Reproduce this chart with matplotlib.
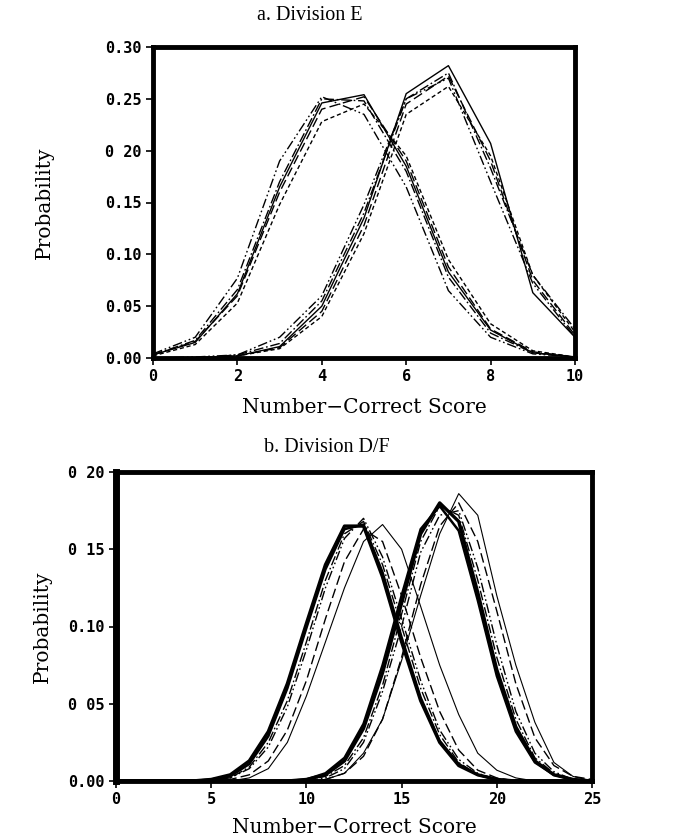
import matplotlib
matplotlib.use("Agg")
import matplotlib.pyplot as plt

# ---------------- data: panel a (Division E) ----------------
xa = list(range(0, 11))
a_left_solid      = [0.003, 0.015, 0.062, 0.165, 0.246, 0.254, 0.185, 0.083, 0.027, 0.005, 0.001]
a_left_dashdotdot = [0.004, 0.020, 0.077, 0.190, 0.252, 0.235, 0.165, 0.065, 0.020, 0.004, 0.001]
a_left_longdash   = [0.003, 0.016, 0.060, 0.160, 0.240, 0.252, 0.190, 0.088, 0.028, 0.006, 0.001]
a_left_dashed     = [0.002, 0.013, 0.053, 0.148, 0.228, 0.245, 0.195, 0.095, 0.033, 0.007, 0.001]
a_left_dashdot    = [0.003, 0.017, 0.066, 0.170, 0.250, 0.248, 0.180, 0.078, 0.024, 0.005, 0.001]

a_right_solid      = [0.000, 0.000, 0.002, 0.011, 0.050, 0.135, 0.255, 0.282, 0.207, 0.063, 0.020]
a_right_dashed     = [0.000, 0.000, 0.002, 0.009, 0.040, 0.120, 0.235, 0.262, 0.195, 0.080, 0.025]
a_right_longdash   = [0.000, 0.000, 0.002, 0.010, 0.045, 0.128, 0.245, 0.272, 0.190, 0.075, 0.022]
a_right_dashdotdot = [0.000, 0.001, 0.003, 0.020, 0.060, 0.148, 0.250, 0.270, 0.170, 0.072, 0.020]
a_right_dashdot    = [0.000, 0.000, 0.003, 0.014, 0.055, 0.140, 0.250, 0.275, 0.183, 0.080, 0.028]

# ---------------- data: panel b (Division D/F) ----------------
xb = list(range(0, 26))
b_left_thick1     = [0,0,0,0,0,0.001,0.004,0.013,0.032,0.063,0.102,0.140,0.165,0.165,0.132,0.090,0.052,0.025,0.010,0.004,0.001,0,0,0,0,0]
b_left_thick2     = [0,0,0,0,0,0.001,0.003,0.011,0.029,0.060,0.099,0.137,0.163,0.166,0.135,0.093,0.054,0.026,0.011,0.004,0.001,0,0,0,0,0]
b_left_dashdot    = [0,0,0,0,0,0.0005,0.002,0.009,0.025,0.052,0.090,0.130,0.160,0.168,0.140,0.100,0.060,0.030,0.012,0.004,0.001,0,0,0,0,0]
b_left_dashdotdot = [0,0,0,0,0,0.0005,0.002,0.008,0.022,0.048,0.085,0.125,0.157,0.170,0.145,0.105,0.065,0.033,0.014,0.005,0.001,0,0,0,0,0]
b_left_longdash   = [0,0,0,0,0,0,0.001,0.004,0.013,0.033,0.065,0.105,0.142,0.163,0.155,0.120,0.080,0.045,0.020,0.007,0.002,0,0,0,0,0]
b_left_thin       = [0,0,0,0,0,0,0,0.002,0.008,0.025,0.055,0.090,0.125,0.155,0.166,0.150,0.113,0.075,0.043,0.018,0.007,0.002,0,0,0,0]

b_right_thick1     = [0,0,0,0,0,0,0,0,0,0,0.001,0.004,0.013,0.034,0.070,0.115,0.160,0.180,0.168,0.122,0.072,0.035,0.013,0.004,0.001,0]
b_right_thick2     = [0,0,0,0,0,0,0,0,0,0,0.001,0.005,0.015,0.037,0.075,0.120,0.163,0.178,0.162,0.117,0.068,0.032,0.012,0.004,0.001,0]
b_right_dashdot    = [0,0,0,0,0,0,0,0,0,0,0.0005,0.003,0.010,0.028,0.062,0.108,0.155,0.178,0.172,0.130,0.080,0.040,0.015,0.005,0.001,0]
b_right_dashdotdot = [0,0,0,0,0,0,0,0,0,0,0,0.002,0.008,0.025,0.058,0.100,0.148,0.172,0.175,0.138,0.088,0.045,0.018,0.006,0.001,0]
b_right_longdash   = [0,0,0,0,0,0,0,0,0,0,0,0.001,0.005,0.016,0.040,0.080,0.127,0.165,0.180,0.155,0.110,0.063,0.028,0.010,0.003,0.001]
b_right_thin       = [0,0,0,0,0,0,0,0,0,0,0,0.001,0.005,0.018,0.040,0.078,0.120,0.160,0.186,0.172,0.120,0.075,0.038,0.012,0.003,0]

a_xticks = [0, 2, 4, 6, 8, 10]
a_yticks = [0.00, 0.05, 0.10, 0.15, 0.20, 0.25, 0.30]
a_yticklabels = ["0.00", "0.05", "0.10", "0.15", "0 20", "0.25", "0.30"]
b_xticks = [0, 5, 10, 15, 20, 25]
b_yticks = [0.00, 0.05, 0.10, 0.15, 0.20]
b_yticklabels = ["0.00", "0 05", "0.10", "0 15", "0 20"]

# ---------------- styles ----------------
SOLID = "-"
LDASH = (0, (7, 3))
SDASH = (0, (3, 2))
DDOT = (0, (7, 2, 1.2, 2))
DDDOT = (0, (7, 2, 1.2, 2, 1.2, 2))

W, H = 678, 839
fig = plt.figure(figsize=(W / 100, H / 100), dpi=100)

def px_axes(l, t, r, b):
    return fig.add_axes([l / W, 1 - b / H, (r - l) / W, (b - t) / H])

lab_font = dict(family="DejaVu Serif", size=14.5)
title_font = dict(family="Liberation Serif", size=14.5)

def style_axes(ax, spine_w=3.5):
    for s in ax.spines.values():
        s.set_linewidth(spine_w)
        s.set_color("black")
    ax.tick_params(axis="both", which="both", direction="out", length=5, width=1.2,
                   top=False, right=False, pad=3)
    for lab in ax.get_xticklabels() + ax.get_yticklabels():
        lab.set_fontfamily("DejaVu Sans Mono")
        lab.set_fontweight("bold")
        lab.set_fontsize(11)

# ---- panel a ----
l1, t1, r1, b1 = 153, 47, 575, 358
ax1 = px_axes(l1, t1, r1, b1)
lw = 1.0
ax1.plot(xa, a_left_solid, color="k", lw=lw, ls=SOLID)
ax1.plot(xa, a_left_dashdotdot, color="k", lw=lw, ls=DDDOT)
ax1.plot(xa, a_left_longdash, color="k", lw=lw, ls=LDASH)
ax1.plot(xa, a_left_dashed, color="k", lw=lw, ls=SDASH)
ax1.plot(xa, a_left_dashdot, color="k", lw=lw, ls=DDOT)
ax1.plot(xa, a_right_solid, color="k", lw=lw, ls=SOLID)
ax1.plot(xa, a_right_dashed, color="k", lw=lw, ls=SDASH)
ax1.plot(xa, a_right_longdash, color="k", lw=lw, ls=LDASH)
ax1.plot(xa, a_right_dashdotdot, color="k", lw=lw, ls=DDDOT)
ax1.plot(xa, a_right_dashdot, color="k", lw=lw, ls=DDOT)
ax1.set_xlim(0, 10)
ax1.set_ylim(0, 0.30)
ax1.set_xticks(a_xticks)
ax1.set_xticklabels([str(t) for t in a_xticks])
ax1.set_yticks(a_yticks)
ax1.set_yticklabels(a_yticklabels)
style_axes(ax1)
ax1.set_xlabel("Number\u2212Correct Score", **lab_font)
ax1.set_ylabel("Probability", **lab_font)
ax1.xaxis.set_label_coords(0.5, (b1 - 398) / (b1 - t1))
ax1.yaxis.set_label_coords((54 - l1) / (r1 - l1), 0.5)
fig.text(310 / W, 1 - 15 / H, "a. Division E", ha="center", va="center", **title_font)

# ---- panel b ----
l2, t2, r2, b2 = 116, 472, 592, 781
ax2 = px_axes(l2, t2, r2, b2)
ax2.plot(xb, b_left_thick1, color="k", lw=2.4, ls=SOLID)
ax2.plot(xb, b_left_thick2, color="k", lw=1.8, ls=SOLID)
ax2.plot(xb, b_left_dashdot, color="k", lw=1.0, ls=DDOT)
ax2.plot(xb, b_left_dashdotdot, color="k", lw=1.0, ls=DDDOT)
ax2.plot(xb, b_left_longdash, color="k", lw=1.0, ls=LDASH)
ax2.plot(xb, b_left_thin, color="k", lw=0.8, ls=SOLID)
ax2.plot(xb, b_right_thick1, color="k", lw=2.4, ls=SOLID)
ax2.plot(xb, b_right_thick2, color="k", lw=1.8, ls=SOLID)
ax2.plot(xb, b_right_dashdot, color="k", lw=1.0, ls=DDOT)
ax2.plot(xb, b_right_dashdotdot, color="k", lw=1.0, ls=DDDOT)
ax2.plot(xb, b_right_longdash, color="k", lw=1.0, ls=LDASH)
ax2.plot(xb, b_right_thin, color="k", lw=0.8, ls=SOLID)
ax2.set_xlim(0, 25)
ax2.set_ylim(0, 0.20)
ax2.set_xticks(b_xticks)
ax2.set_xticklabels([str(t) for t in b_xticks])
ax2.set_yticks(b_yticks)
ax2.set_yticklabels(b_yticklabels)
style_axes(ax2)
ax2.spines["left"].set_linewidth(5)
ax2.set_xlabel("Number\u2212Correct Score", **lab_font)
ax2.set_ylabel("Probability", **lab_font)
ax2.xaxis.set_label_coords(0.5, (b2 - 818) / (b2 - t2))
ax2.yaxis.set_label_coords((52 - l2) / (r2 - l2), 0.5)
fig.text(327 / W, 1 - 447 / H, "b. Division D/F", ha="center", va="center", **title_font)

fig.savefig("out.png", dpi=100)
